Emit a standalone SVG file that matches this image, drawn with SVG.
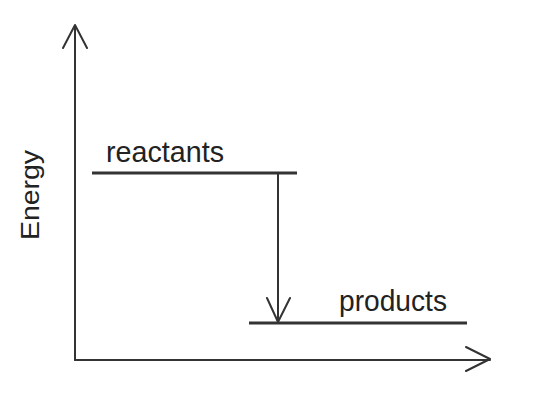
<svg xmlns="http://www.w3.org/2000/svg" width="534" height="412" viewBox="0 0 534 412">
<style>
.ln{stroke:#333;stroke-width:2;fill:none;stroke-linecap:round;stroke-linejoin:round}
.lv{stroke:#333;stroke-width:3;fill:none}
.tx{font-family:"Liberation Sans",Arial,sans-serif;fill:#222}
</style>
<rect width="534" height="412" fill="#fff"/>
<g id="axes">
<path class="ln" d="M75,360 V25 M63,48 L75,25 L87,48"/>
<path class="ln" d="M75,360 H490 M466,347 L490,359 L466,371"/>
<text class="tx" font-size="26" text-anchor="middle" textLength="90" lengthAdjust="spacingAndGlyphs" transform="translate(39,195) rotate(-90)">Energy</text>
</g>
<g id="reactants">
<line class="lv" x1="92" y1="173" x2="297" y2="173"/>
<text class="tx" x="106" y="162" font-size="30" textLength="118" lengthAdjust="spacingAndGlyphs">reactants</text>
</g>
<g id="products">
<line class="lv" x1="249" y1="323" x2="467" y2="323"/>
<text class="tx" x="339" y="311" font-size="30" textLength="108" lengthAdjust="spacingAndGlyphs">products</text>
</g>
<g id="connectors">
<path class="ln" d="M278,173 V322 M267,298 L278,322 L290,298"/>
</g>
</svg>
